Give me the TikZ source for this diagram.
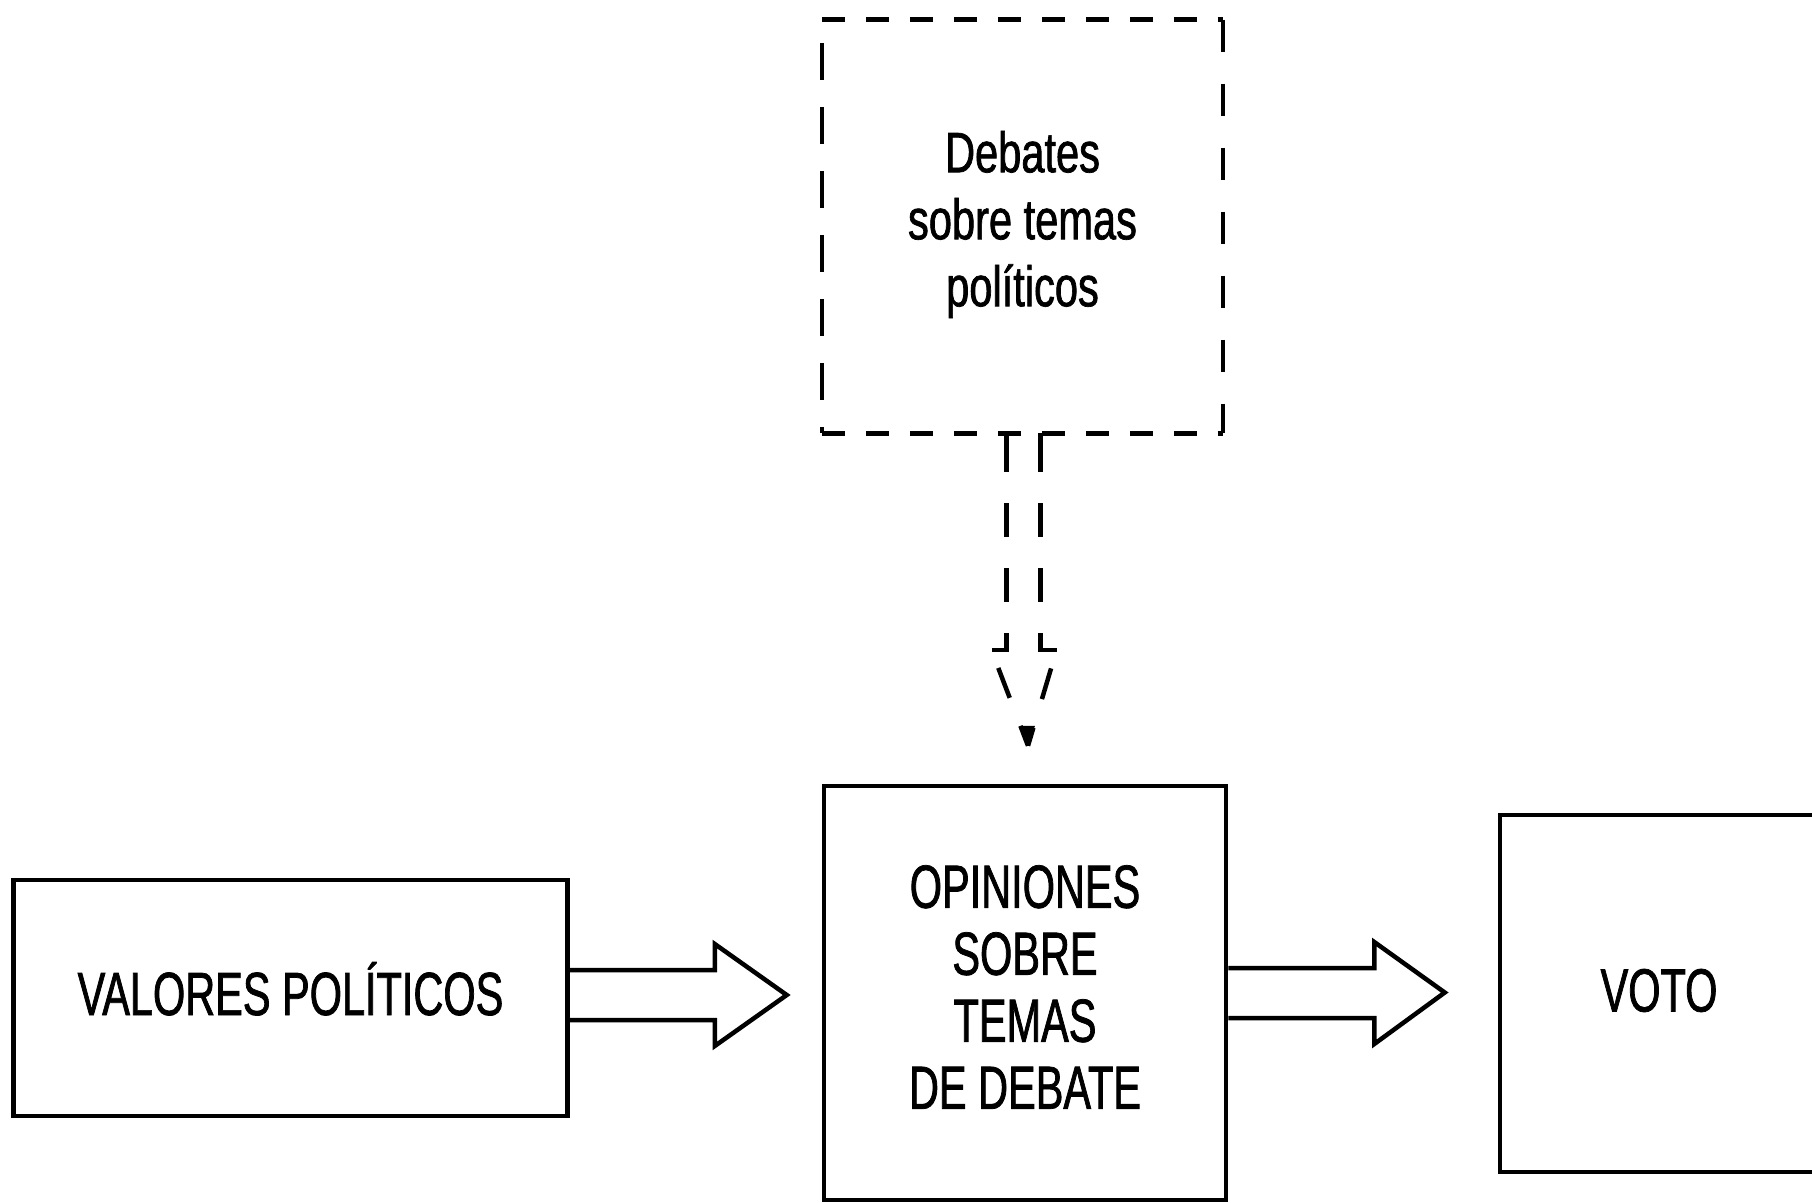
\documentclass[tikz,border=0pt]{standalone}
\usepackage{fontspec}
\setmainfont{Liberation Sans}
\newfontfamily\capsf{Liberation Sans}[FakeStretch=0.68,FakeBold=1.2]
\newfontfamily\lowf{Liberation Sans}[FakeStretch=0.73,FakeBold=1.2]
\usetikzlibrary{calc}
\tikzset{
  solidbox/.style={draw=black, line width=4.5pt, rectangle, inner sep=0pt},
  captext/.style={inner sep=0pt, align=center, font=\capsf\fontsize{61}{67}\selectfont},
  lowtext/.style={inner sep=0pt, align=center, font=\lowf\fontsize{57}{67}\selectfont},
  blockarrow/.style={draw=black, line width=4.5pt, line join=miter},
  dasharrow/.style={draw=black, line width=4.5pt, line join=miter},
}
\begin{document}
\begin{tikzpicture}[x=1pt, y=-1pt]
\useasboundingbox (0,0) rectangle (1812,1202);
\clip (0,0) rectangle (1812,1202);
\fill[white] (0,0) rectangle (1812,1202);

% boxes
\node[rectangle, inner sep=0pt, minimum width=401pt, minimum height=413pt] (debates) at (1022.5,226.5) {};
\node[solidbox, minimum width=554pt, minimum height=236pt] (valores) at (290.5,998) {};
\node[solidbox, minimum width=402pt, minimum height=414pt] (opiniones) at (1025,993) {};
\node[solidbox, minimum width=318pt, minimum height=357pt] (voto) at (1659,993.5) {};

% texts
\node[lowtext] (debatestext) at ($(debates.center)+(0,-2)$) {Debates\\sobre temas\\políticos};
\node[captext, text height=44pt, text depth=0pt] (valorestext) at ($(valores.center)+(0,-5)$) {VALORES POLÍTICOS};
\node[captext] (opinionestext) at ($(opiniones.center)+(0,-6)$) {OPINIONES\\SOBRE\\TEMAS\\DE DEBATE};
\node[captext, text height=44pt, text depth=0pt] (vototext) at ($(voto.center)+(0,-4)$) {VOTO};

% dashed border of the debates box
\draw[line width=5pt, dash pattern=on 23pt off 21pt]
  (debates.north west) -- (debates.north east);
\draw[line width=5pt, dash pattern=on 23pt off 21pt]
  (debates.south west) -- (debates.south east);
\draw[line width=4.5pt, dash pattern=on 37pt off 27pt, dash phase=41pt]
  (debates.north west) -- (debates.south west);
\draw[line width=4.5pt, dash pattern=on 32pt off 32pt]
  (debates.north east) -- (debates.south east);

% dashed block arrow from debates to opiniones
\coordinate (dtip) at ($(opiniones.north)+(3,-38)$);
\coordinate (dls) at ($(debates.south)+(-31,217)$);
\coordinate (drs) at ($(debates.south)+(34,217)$);
\draw[dasharrow, dash pattern=on 39pt off 31pt on 34pt off 31pt on 34pt off 31pt on 60pt]
  ($(debates.south)+(-16,0)$) -- ($(debates.south)+(-16,217)$) -- (dls);
\draw[dasharrow, dash pattern=on 39pt off 31pt on 34pt off 31pt on 34pt off 31pt on 60pt]
  ($(debates.south)+(18,0)$) -- ($(debates.south)+(18,217)$) -- (drs);
\draw[dasharrow, dash pattern=on 0pt off 19pt on 32pt off 30pt on 40pt] (dls) -- (dtip);
\draw[dasharrow, dash pattern=on 0pt off 19pt on 32pt off 30pt on 40pt] (drs) -- (dtip);
\fill[black] ($(dtip)+(-7,-20)$) -- ($(dtip)+(7,-20)$) -- (dtip) -- cycle;

% block arrow valores -> opiniones
\coordinate (a1) at ($(valores.east)+(0,-3)$);
\draw[blockarrow]
  ($(a1)+(0,-25)$) -- ($(a1)+(145,-25)$) -- ($(a1)+(145,-51)$)
  -- ($(opiniones.west)+(-35,2)$)
  -- ($(a1)+(145,51)$) -- ($(a1)+(145,25)$) -- ($(a1)+(0,25)$);

% block arrow opiniones -> voto
\coordinate (a2) at (opiniones.east);
\draw[blockarrow]
  ($(a2)+(0,-25)$) -- ($(a2)+(146,-25)$) -- ($(a2)+(146,-51)$)
  -- ($(voto.west)+(-53,-1)$)
  -- ($(a2)+(146,51)$) -- ($(a2)+(146,25)$) -- ($(a2)+(0,25)$);
\end{tikzpicture}
\end{document}
